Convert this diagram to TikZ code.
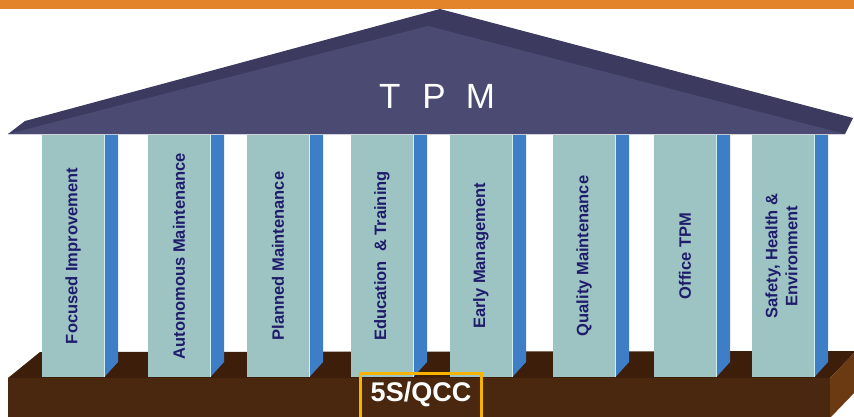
\documentclass[tikz,border=0pt]{standalone}
\usepackage{fontspec}
\setmainfont{Liberation Sans}
\definecolor{barorange}{HTML}{E3842A}
\definecolor{roofdark}{HTML}{3C3B5F}
\definecolor{rooflight}{HTML}{4A4A72}
\definecolor{pillarfront}{HTML}{9DC4C2}
\definecolor{pillarside}{HTML}{3D7EC6}
\definecolor{pillaredge}{HTML}{CDEFF0}
\definecolor{basetop}{HTML}{3D1E0B}
\definecolor{basefront}{HTML}{4A2810}
\definecolor{baseside}{HTML}{6B3A12}
\definecolor{labelblue}{HTML}{1F1C6B}
\definecolor{qccgold}{HTML}{F6B400}
\begin{document}
\begin{tikzpicture}
        [x=1pt,y=-1pt,every node/.style={inner sep=0pt},
         pillar/.style={rectangle,fill=pillarfront,minimum width=62pt,minimum height=242pt,
            text=labelblue,align=center,font=\fontsize{16.5}{22}\selectfont\bfseries},
         sideface/.style={fill=pillarside},
         sideedge/.style={draw=pillaredge,line width=0.8pt},
         rooftext/.style={text=white,font=\fontsize{35}{40}\selectfont},
         qcctext/.style={text=white,font=\fontsize{27}{30}\selectfont\bfseries}]
        \useasboundingbox (0,0) rectangle (854,416);
        %Top bar
        \fill[barorange] (0,0) rectangle (854,8.5);

        %Base
        \fill[basetop] (8,378) -- (40,352) -- (856,351) -- (830,378) -- cycle;

        %Pillars
        \node[pillar] (P1) at (73,256)  {\rotatebox{90}{Focused Improvement}};
        \node[pillar] (P2) at (179,256) {\rotatebox{90}{Autonomous Maintenance}};
        \node[pillar] (P3) at (278,256) {\rotatebox{90}{Planned Maintenance}};
        \node[pillar] (P4) at (382,256) {\rotatebox{90}{Education\ \ \& Training}};
        \node[pillar] (P5) at (481,256) {\rotatebox{90}{Early Management}};
        \node[pillar] (P6) at (584,256) {\rotatebox{90}{Quality Maintenance}};
        \node[pillar] (P7) at (685,256) {\rotatebox{90}{Office TPM}};
        \node[pillar] (P8) at (783,256) {\rotatebox{90}{\begin{tabular}{@{}c@{}}Safety, Health \&\\[-2pt] Environment\end{tabular}}};

        \foreach \i in {1,...,8} {
            \fill[sideface] (P\i.north east) -- ++(14,0) -- ++(0,227) -- (P\i.south east) -- cycle;
            \draw[sideedge] (P\i.north east) -- (P\i.south east);
        }

        \fill[basefront] (8,378) rectangle (830,420);
        \fill[baseside] (830,378) -- (856,351) -- (856,391) -- (830,418) -- cycle;

        %Roof
        \fill[roofdark] (8,134) -- (25,121) -- (440,9) -- (853,118) -- (845,134) -- cycle;
        \fill[rooflight] (8,134) -- (428,26) -- (845,134) -- cycle;
        \node[rooftext] (TPM) at (437,96) {T\hspace{22pt}P\hspace{20pt}M};

        %Foundation label
        \draw[qccgold,line width=3.5pt] (360.5,373.5) rectangle (481.5,430);
        \node[qcctext] (QCC) at (421,394) {5S/QCC};
    \end{tikzpicture}
\end{document}
